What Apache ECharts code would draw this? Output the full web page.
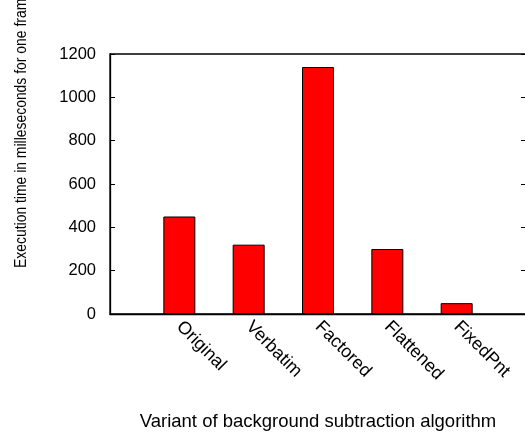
<!DOCTYPE html>
<html>
<head>
<meta charset="utf-8">
<script src="https://cdn.jsdelivr.net/npm/echarts@6/dist/echarts.min.js"></script>
<style>
html,body{margin:0;padding:0;background:#fff;}
#chart{width:525px;height:432px;}
</style>
</head>
<body>
<div id="chart"></div>
<script>
var categories = ['', 'Original', 'Verbatim', 'Factored', 'Flattened', 'FixedPnt', ''];
var execTimes = ['-', 450, 320, 1140, 300, 50, '-'];
var yTicks = [0, 200, 400, 600, 800, 1000, 1200];
var xTitle = 'Variant of background subtraction algorithm';
var yTitle = 'Execution time in milleseconds for one frame';

var FONT = 'Liberation Sans';
var chart = echarts.init(document.getElementById('chart'), null, {renderer: 'canvas'});
var yMin = yTicks[0], yMax = yTicks[yTicks.length - 1], yStep = yTicks[1] - yTicks[0];
chart.setOption({
  animation: false,
  backgroundColor: '#fff',
  grid: {left: 110, top: 54, width: 416, bottom: 118, show: true, borderColor: '#000', borderWidth: 1.3,
         containLabel: false, outerBoundsMode: 'none'},
  xAxis: {
    type: 'category',
    data: categories,
    boundaryGap: false,
    axisLine: {lineStyle: {color: '#000', width: 1.3}},
    axisTick: {show: false},
    axisLabel: {interval: 0, rotate: -45, margin: 10, color: '#000', fontFamily: FONT, fontSize: 18},
    name: xTitle,
    nameLocation: 'middle',
    nameGap: 98,
    nameTextStyle: {color: '#000', fontFamily: FONT, fontSize: 18.5}
  },
  yAxis: [{
    type: 'value',
    min: yMin, max: yMax, interval: yStep,
    axisLine: {show: true, lineStyle: {color: '#000', width: 1.3}},
    axisTick: {show: true, inside: true, length: 5, lineStyle: {color: '#000'}},
    splitLine: {show: false},
    axisLabel: {margin: 14, color: '#000', fontFamily: FONT, fontSize: 16.5, formatter: function (v) { return String(v); }}
  }, {
    type: 'value',
    position: 'right',
    min: yMin, max: yMax, interval: yStep,
    axisLine: {show: false},
    axisTick: {show: true, inside: true, length: 5, lineStyle: {color: '#000'}},
    splitLine: {show: false},
    axisLabel: {show: false}
  }],
  graphic: [{
    type: 'text',
    x: 22, y: 268,
    rotation: Math.PI / 2,
    scaleX: 0.87,
    style: {text: yTitle, fill: '#000', font: '16px "' + FONT + '"', textAlign: 'left', textVerticalAlign: 'middle'}
  }],
  series: [{
    type: 'bar',
    data: execTimes,
    barWidth: 32,
    itemStyle: {color: '#ff0000', borderColor: '#000', borderWidth: 1}
  }]
});
</script>
</body>
</html>
